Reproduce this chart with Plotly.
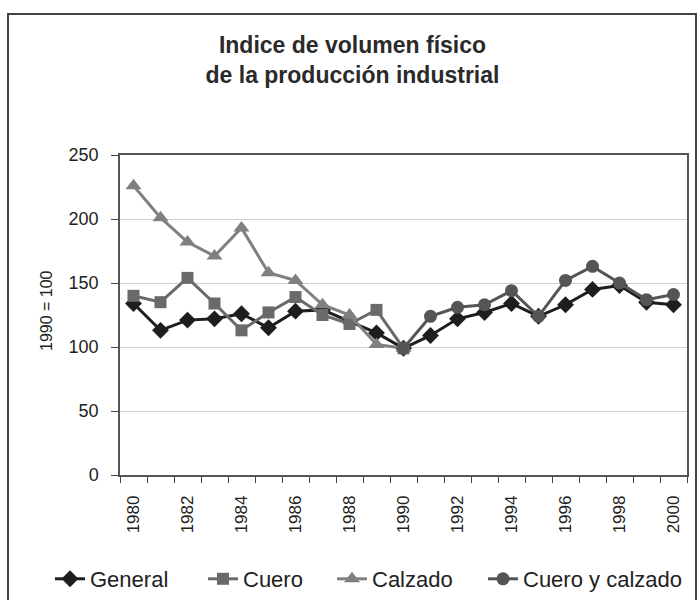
import plotly.graph_objects as go

years_all = list(range(1980, 2001))
years_early = list(range(1980, 1991))
years_late = list(range(1990, 2001))

general = [134, 113, 121, 122, 126, 115, 128, 129, 120, 111, 99,
           109, 122, 127, 134, 124, 133, 145, 148, 135, 133]
cuero = [140, 135, 154, 134, 113, 127, 139, 125, 118, 129, 99]
calzado = [226, 201, 182, 171, 193, 158, 152, 133, 125, 102, 99]
cuero_calzado = [99, 124, 131, 133, 144, 124, 152, 163, 150, 137, 141]

tick_years = list(range(1980, 2001, 2))
tick_labels = [str(y) for y in tick_years]

FONT = "Liberation Sans, Arial, sans-serif"
L, R, T, B = 120, 11, 155, 125
W, H = 698, 600
PW, PH = W - L - R, H - T - B


def px_x(p):
    return (p - L) / PW


def px_y(p):
    return (H - B - p) / PH


fig = go.Figure()
fig.add_trace(go.Scatter(x=years_all, y=general, name="General", mode="lines+markers",
                         line=dict(color="#1e1e1e", width=3),
                         marker=dict(symbol="diamond", size=13, color="#1e1e1e"),
                         legend="legend"))
fig.add_trace(go.Scatter(x=years_early, y=cuero, name="Cuero", mode="lines+markers",
                         line=dict(color="#6a6a6a", width=3),
                         marker=dict(symbol="square", size=12, color="#6a6a6a"),
                         legend="legend2"))
fig.add_trace(go.Scatter(x=years_early, y=calzado, name="Calzado", mode="lines+markers",
                         line=dict(color="#808080", width=3),
                         marker=dict(symbol="triangle-up", size=14, color="#808080"),
                         legend="legend3"))
fig.add_trace(go.Scatter(x=years_late, y=cuero_calzado, name="Cuero y calzado", mode="lines+markers",
                         line=dict(color="#555555", width=3),
                         marker=dict(symbol="circle", size=13, color="#555555"),
                         legend="legend4"))

legend_font = dict(size=22, color="#222222", family=FONT)
text_starts = [90, 243, 372, 523]


def make_legend(px_text):
    return dict(orientation="h", x=px_x(px_text - 40), xanchor="left",
                y=px_y(579), yanchor="middle", font=legend_font,
                bgcolor="rgba(0,0,0,0)", borderwidth=0)


fig.update_layout(
    width=W, height=H,
    paper_bgcolor="white", plot_bgcolor="white",
    margin=dict(l=L, r=R, t=T, b=B, autoexpand=False),
    font=dict(family=FONT, color="#222222"),
    title=dict(text="<b>Indice de volumen físico<br>de la producción industrial</b>",
               x=0.505, xref="container", xanchor="center",
               y=1 - 53 / H, yref="container", yanchor="middle",
               font=dict(size=23, color="#2a2a2a", family=FONT)),
    showlegend=True,
    legend=make_legend(text_starts[0]),
    legend2=make_legend(text_starts[1]),
    legend3=make_legend(text_starts[2]),
    legend4=make_legend(text_starts[3]),
    shapes=[dict(type="rect", xref="paper", yref="paper",
                 x0=px_x(8), x1=px_x(696), y0=px_y(610), y1=px_y(14),
                 line=dict(color="#444444", width=2), fillcolor="rgba(0,0,0,0)",
                 layer="below")],
    annotations=[dict(text="1990 = 100", textangle=-90, xref="paper", yref="paper",
                      x=px_x(46), y=px_y(311), xanchor="center", yanchor="middle",
                      showarrow=False, font=dict(size=16, color="#222222", family=FONT))],
)

fig.update_xaxes(
    range=[1979.5, 2000.5], automargin=False,
    tickmode="array", tickvals=tick_years, ticktext=tick_labels,
    tickangle=-90, ticks="", tickfont=dict(size=17, color="#222222"),
    ticklabelstandoff=12,
    minor=dict(tickmode="linear", tick0=1979.5, dtick=1, ticks="outside",
               ticklen=6, tickcolor="#444444", tickwidth=1, showgrid=False),
    showgrid=False, zeroline=False,
    showline=True, linecolor="#555555", linewidth=1.5, mirror=True,
)
fig.update_yaxes(
    range=[0, 250], tickmode="linear", tick0=0, dtick=50, automargin=False,
    ticks="outside", ticklen=7, tickcolor="#444444",
    tickfont=dict(size=18, color="#222222"), ticklabelstandoff=9,
    showgrid=True, gridcolor="#cfcfcf", gridwidth=1, zeroline=False,
    showline=True, linecolor="#555555", linewidth=1.5, mirror=True,
)

fig.write_html("out.html",
               config={"displayModeBar": False},
               post_script="document.body.style.margin='0';document.body.style.overflow='hidden';")
